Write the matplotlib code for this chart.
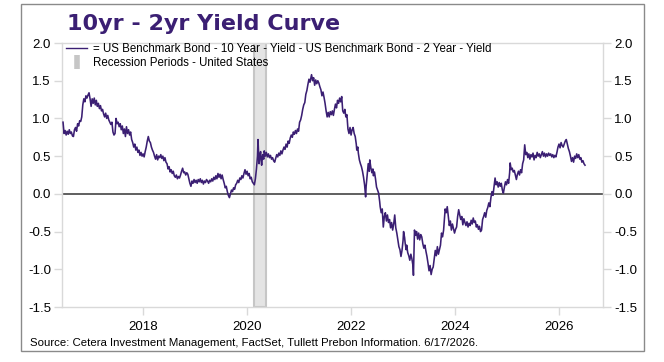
import matplotlib
matplotlib.use("Agg")
import matplotlib.pyplot as plt
from matplotlib.lines import Line2D
from matplotlib.patches import Rectangle

# 10yr - 2yr spread, (decimal year, spread in %)
pts_2016 = [(2016.46, 0.95), (2016.48, 0.80), (2016.50, 0.84), (2016.52, 0.78), (2016.54, 0.83),
            (2016.56, 0.79), (2016.58, 0.85), (2016.60, 0.80), (2016.62, 0.82), (2016.64, 0.77),
            (2016.66, 0.76), (2016.68, 0.85), (2016.70, 0.88), (2016.72, 0.83), (2016.74, 0.93),
            (2016.76, 0.90), (2016.78, 0.97), (2016.80, 0.96), (2016.82, 1.02), (2016.84, 1.18),
            (2016.86, 1.26), (2016.88, 1.22), (2016.90, 1.30), (2016.92, 1.27), (2016.94, 1.31),
            (2016.96, 1.34), (2016.98, 1.26)]
pts_2017 = [(2017.00, 1.16), (2017.02, 1.26), (2017.04, 1.20), (2017.06, 1.27), (2017.08, 1.18),
            (2017.10, 1.24), (2017.12, 1.16), (2017.14, 1.20), (2017.16, 1.13), (2017.18, 1.17),
            (2017.20, 1.10), (2017.22, 1.12), (2017.24, 1.06), (2017.26, 1.02), (2017.28, 1.07),
            (2017.30, 1.00), (2017.32, 1.04), (2017.34, 0.98), (2017.36, 0.95), (2017.38, 0.92),
            (2017.40, 0.95), (2017.42, 0.82), (2017.44, 0.78), (2017.46, 0.80), (2017.48, 1.00),
            (2017.50, 0.93), (2017.52, 0.95), (2017.54, 0.89), (2017.56, 0.93), (2017.58, 0.85),
            (2017.60, 0.90), (2017.62, 0.80), (2017.64, 0.86), (2017.66, 0.76), (2017.68, 0.89),
            (2017.70, 0.80), (2017.72, 0.85), (2017.74, 0.78), (2017.76, 0.82), (2017.78, 0.72),
            (2017.80, 0.68), (2017.82, 0.62), (2017.84, 0.66), (2017.86, 0.58), (2017.88, 0.62),
            (2017.90, 0.55), (2017.92, 0.58), (2017.94, 0.51), (2017.96, 0.55), (2017.98, 0.50)]
pts_2018 = [(2018.00, 0.53), (2018.02, 0.49), (2018.04, 0.56), (2018.06, 0.62), (2018.08, 0.70),
            (2018.10, 0.76), (2018.12, 0.70), (2018.14, 0.68), (2018.16, 0.62), (2018.18, 0.58),
            (2018.20, 0.55), (2018.22, 0.50), (2018.24, 0.46), (2018.26, 0.52), (2018.28, 0.45),
            (2018.30, 0.50), (2018.32, 0.48), (2018.34, 0.52), (2018.36, 0.47), (2018.38, 0.50),
            (2018.40, 0.44), (2018.42, 0.48), (2018.44, 0.42), (2018.46, 0.40), (2018.48, 0.33),
            (2018.50, 0.36), (2018.52, 0.29), (2018.54, 0.32), (2018.56, 0.27), (2018.58, 0.30),
            (2018.60, 0.24), (2018.62, 0.22), (2018.64, 0.25), (2018.66, 0.20), (2018.68, 0.23),
            (2018.70, 0.21), (2018.72, 0.25), (2018.74, 0.30), (2018.76, 0.34), (2018.78, 0.28),
            (2018.80, 0.29), (2018.82, 0.25), (2018.84, 0.28), (2018.86, 0.26), (2018.88, 0.20),
            (2018.90, 0.14), (2018.92, 0.10), (2018.94, 0.17), (2018.96, 0.14), (2018.98, 0.19)]
pts_2019 = [(2019.00, 0.15), (2019.02, 0.18), (2019.04, 0.14), (2019.06, 0.19), (2019.08, 0.16),
            (2019.10, 0.20), (2019.12, 0.15), (2019.14, 0.18), (2019.16, 0.13), (2019.18, 0.17),
            (2019.20, 0.15), (2019.22, 0.19), (2019.24, 0.17), (2019.26, 0.14), (2019.28, 0.18),
            (2019.30, 0.16), (2019.32, 0.20), (2019.34, 0.17), (2019.36, 0.22), (2019.38, 0.19),
            (2019.40, 0.24), (2019.42, 0.20), (2019.44, 0.27), (2019.46, 0.22), (2019.48, 0.26),
            (2019.50, 0.20), (2019.52, 0.25), (2019.54, 0.19), (2019.56, 0.14), (2019.58, 0.08),
            (2019.60, 0.10), (2019.62, 0.03), (2019.64, -0.02), (2019.66, -0.05), (2019.68, 0.00),
            (2019.70, 0.05), (2019.72, 0.03), (2019.74, 0.08), (2019.76, 0.06), (2019.78, 0.12),
            (2019.80, 0.14), (2019.82, 0.18), (2019.84, 0.15), (2019.86, 0.21), (2019.88, 0.19),
            (2019.90, 0.24), (2019.92, 0.21), (2019.94, 0.27), (2019.96, 0.32), (2019.98, 0.26)]
pts_2020 = [(2020.00, 0.30), (2020.02, 0.24), (2020.04, 0.27), (2020.06, 0.20), (2020.08, 0.22),
            (2020.10, 0.16), (2020.12, 0.14), (2020.14, 0.12), (2020.16, 0.20), (2020.18, 0.33),
            (2020.19, 0.42), (2020.20, 0.50), (2020.21, 0.72), (2020.22, 0.55), (2020.23, 0.40),
            (2020.24, 0.48), (2020.26, 0.56), (2020.27, 0.44), (2020.28, 0.38), (2020.30, 0.52),
            (2020.32, 0.46), (2020.33, 0.57), (2020.35, 0.50), (2020.37, 0.55), (2020.39, 0.49),
            (2020.41, 0.53), (2020.43, 0.48), (2020.45, 0.51), (2020.47, 0.46), (2020.49, 0.48),
            (2020.51, 0.44), (2020.53, 0.42), (2020.55, 0.47), (2020.57, 0.52), (2020.59, 0.49),
            (2020.61, 0.54), (2020.63, 0.51), (2020.65, 0.57), (2020.67, 0.53), (2020.69, 0.58),
            (2020.71, 0.62), (2020.73, 0.59), (2020.75, 0.66), (2020.77, 0.62), (2020.79, 0.70),
            (2020.81, 0.67), (2020.83, 0.74), (2020.85, 0.78), (2020.87, 0.75), (2020.89, 0.82),
            (2020.91, 0.79), (2020.93, 0.84), (2020.95, 0.80), (2020.97, 0.86), (2020.99, 0.83)]
pts_2021 = [(2021.01, 0.95), (2021.03, 0.98), (2021.05, 1.04), (2021.07, 1.12), (2021.09, 1.18),
            (2021.11, 1.21), (2021.13, 1.32), (2021.15, 1.37), (2021.17, 1.45), (2021.19, 1.52),
            (2021.21, 1.48), (2021.23, 1.55), (2021.24, 1.58), (2021.26, 1.50), (2021.28, 1.54),
            (2021.30, 1.44), (2021.32, 1.51), (2021.34, 1.46), (2021.36, 1.50), (2021.38, 1.47),
            (2021.40, 1.42), (2021.42, 1.38), (2021.44, 1.30), (2021.46, 1.35), (2021.48, 1.28),
            (2021.50, 1.20), (2021.52, 1.10), (2021.54, 1.02), (2021.56, 1.08), (2021.58, 1.02),
            (2021.60, 1.09), (2021.62, 1.05), (2021.64, 1.10), (2021.66, 1.04), (2021.68, 1.12),
            (2021.70, 1.19), (2021.72, 1.14), (2021.74, 1.24), (2021.76, 1.20), (2021.78, 1.27),
            (2021.80, 1.22), (2021.82, 1.29), (2021.84, 1.10), (2021.86, 1.07), (2021.88, 1.12),
            (2021.90, 1.02), (2021.92, 1.05), (2021.94, 0.86), (2021.96, 0.80), (2021.98, 0.88)]
pts_2022 = [(2022.00, 0.78), (2022.02, 0.85), (2022.04, 0.88), (2022.06, 0.80), (2022.08, 0.76),
            (2022.10, 0.66), (2022.11, 0.58), (2022.13, 0.62), (2022.14, 0.54), (2022.16, 0.45),
            (2022.18, 0.40), (2022.20, 0.36), (2022.22, 0.30), (2022.24, 0.22), (2022.26, 0.12),
            (2022.28, -0.04), (2022.29, 0.10), (2022.31, 0.25), (2022.33, 0.40), (2022.35, 0.30),
            (2022.36, 0.45), (2022.38, 0.35), (2022.40, 0.28), (2022.42, 0.33), (2022.43, 0.24),
            (2022.45, 0.29), (2022.47, 0.20), (2022.49, 0.09), (2022.51, 0.05), (2022.53, 0.01),
            (2022.55, -0.10), (2022.56, -0.17), (2022.58, -0.25), (2022.60, -0.20), (2022.62, -0.44),
            (2022.64, -0.30), (2022.66, -0.25), (2022.68, -0.36), (2022.70, -0.28), (2022.72, -0.38),
            (2022.74, -0.34), (2022.76, -0.45), (2022.78, -0.38), (2022.80, -0.48), (2022.82, -0.40),
            (2022.84, -0.28), (2022.86, -0.45), (2022.88, -0.52), (2022.90, -0.61), (2022.92, -0.70),
            (2022.94, -0.74), (2022.96, -0.83), (2022.98, -0.75)]
pts_2023 = [(2023.00, -0.62), (2023.01, -0.50), (2023.03, -0.58), (2023.04, -0.65), (2023.06, -0.74),
            (2023.07, -0.68), (2023.09, -0.78), (2023.11, -0.82), (2023.13, -0.88), (2023.15, -0.80),
            (2023.17, -0.86), (2023.19, -0.95), (2023.20, -1.08), (2023.22, -0.48), (2023.24, -0.55),
            (2023.26, -0.50), (2023.28, -0.60), (2023.30, -0.52), (2023.32, -0.61), (2023.34, -0.54),
            (2023.36, -0.57), (2023.38, -0.66), (2023.40, -0.72), (2023.42, -0.68), (2023.44, -0.76),
            (2023.46, -0.83), (2023.48, -0.92), (2023.50, -1.02), (2023.52, -0.95), (2023.54, -1.07),
            (2023.56, -1.00), (2023.58, -0.97), (2023.60, -0.86), (2023.62, -0.75), (2023.64, -0.82),
            (2023.66, -0.70), (2023.68, -0.80), (2023.70, -0.74), (2023.72, -0.68), (2023.74, -0.52),
            (2023.76, -0.57), (2023.78, -0.48), (2023.80, -0.30), (2023.81, -0.20), (2023.83, -0.25),
            (2023.85, -0.17), (2023.87, -0.30), (2023.89, -0.42), (2023.91, -0.36), (2023.93, -0.48),
            (2023.95, -0.40), (2023.97, -0.46), (2023.99, -0.52)]
pts_2024 = [(2024.01, -0.47), (2024.03, -0.44), (2024.05, -0.30), (2024.07, -0.21), (2024.09, -0.28),
            (2024.11, -0.34), (2024.13, -0.30), (2024.15, -0.41), (2024.17, -0.33), (2024.19, -0.38),
            (2024.21, -0.42), (2024.23, -0.37), (2024.25, -0.44), (2024.27, -0.39), (2024.29, -0.42),
            (2024.31, -0.35), (2024.33, -0.40), (2024.35, -0.32), (2024.37, -0.38), (2024.39, -0.36),
            (2024.41, -0.44), (2024.43, -0.41), (2024.45, -0.47), (2024.47, -0.43), (2024.49, -0.50),
            (2024.51, -0.48), (2024.53, -0.34), (2024.55, -0.30), (2024.57, -0.25), (2024.59, -0.31),
            (2024.61, -0.22), (2024.63, -0.18), (2024.65, -0.12), (2024.67, -0.17), (2024.69, -0.05),
            (2024.71, 0.03), (2024.73, -0.02), (2024.75, 0.09), (2024.77, 0.21), (2024.79, 0.12),
            (2024.81, 0.16), (2024.83, 0.09), (2024.85, 0.15), (2024.87, 0.10), (2024.89, 0.14),
            (2024.91, 0.05), (2024.93, 0.01), (2024.95, 0.09), (2024.97, 0.16), (2024.99, 0.12)]
pts_2025 = [(2025.01, 0.19), (2025.03, 0.14), (2025.05, 0.28), (2025.06, 0.41), (2025.08, 0.32),
            (2025.10, 0.34), (2025.12, 0.29), (2025.14, 0.31), (2025.16, 0.25), (2025.18, 0.19),
            (2025.20, 0.26), (2025.22, 0.30), (2025.24, 0.25), (2025.26, 0.32), (2025.28, 0.28),
            (2025.30, 0.40), (2025.32, 0.45), (2025.34, 0.65), (2025.36, 0.52), (2025.38, 0.55),
            (2025.40, 0.48), (2025.42, 0.53), (2025.44, 0.46), (2025.46, 0.52), (2025.48, 0.49),
            (2025.50, 0.54), (2025.52, 0.45), (2025.54, 0.51), (2025.56, 0.48), (2025.58, 0.55),
            (2025.60, 0.50), (2025.62, 0.53), (2025.64, 0.48), (2025.66, 0.52), (2025.68, 0.56),
            (2025.70, 0.50), (2025.72, 0.54), (2025.74, 0.49), (2025.76, 0.53), (2025.78, 0.50),
            (2025.80, 0.54), (2025.82, 0.51), (2025.84, 0.53), (2025.86, 0.49), (2025.88, 0.52),
            (2025.90, 0.48), (2025.92, 0.51), (2025.94, 0.49), (2025.96, 0.55), (2025.98, 0.62)]
pts_2026 = [(2026.00, 0.66), (2026.02, 0.61), (2026.04, 0.68), (2026.06, 0.64), (2026.08, 0.62),
            (2026.10, 0.66), (2026.12, 0.70), (2026.14, 0.72), (2026.16, 0.66), (2026.18, 0.60),
            (2026.20, 0.56), (2026.22, 0.50), (2026.24, 0.43), (2026.26, 0.48), (2026.28, 0.42),
            (2026.30, 0.50), (2026.32, 0.47), (2026.34, 0.53), (2026.36, 0.48), (2026.38, 0.52),
            (2026.40, 0.46), (2026.42, 0.48), (2026.44, 0.42), (2026.46, 0.44), (2026.48, 0.40),
            (2026.50, 0.38)]

# recession periods (decimal years)
rec_start = [2020.13]
rec_end = [2020.37]

year_ticks = [2018, 2020, 2022, 2024, 2026]
y_ticks = [-1.5, -1.0, -0.5, 0.0, 0.5, 1.0, 1.5, 2.0]

title = "10yr - 2yr Yield Curve"
line_label = "= US Benchmark Bond - 10 Year - Yield - US Benchmark Bond - 2 Year - Yield"
rec_label = "Recession Periods - United States"
source = "Source: Cetera Investment Management, FactSet, Tullett Prebon Information. 6/17/2026."

purple = "#3b1f73"
grey_ax = "#d9d9d9"

all_pts = pts_2016 + pts_2017 + pts_2018 + pts_2019 + pts_2020 + pts_2021 + \
    pts_2022 + pts_2023 + pts_2024 + pts_2025 + pts_2026
t = [p[0] for p in all_pts]
v = [p[1] for p in all_pts]

plt.rcParams['font.family'] = ['Liberation Sans', 'DejaVu Sans']

fig = plt.figure(figsize=(6.64, 3.62), dpi=100)
ax = fig.add_axes([62 / 664, 55 / 362, 541 / 664, 264 / 362])

for s, e in zip(rec_start, rec_end):
    ax.axvspan(s, e, facecolor="#e4e4e4", edgecolor="#c6c6c6", lw=1.5, zorder=1)

ax.axhline(0, color="#5f5f5f", lw=1.4, zorder=2)
ax.plot(t, v, color=purple, lw=1.15, zorder=3)

ax.set_xlim(2016.44, 2026.846)
ax.set_ylim(-1.5, 2.0)
ax.set_xticks(year_ticks)
ax.set_xticklabels([str(y) for y in year_ticks])
ax.set_yticks(y_ticks)
ax.set_yticklabels(["%.1f" % y for y in y_ticks])

for sp in ax.spines.values():
    sp.set_color(grey_ax)
    sp.set_linewidth(1.0)
ax.tick_params(axis="both", colors=grey_ax, length=6, width=1.0, labelcolor="black")
ax.tick_params(axis="y", right=True, labelright=True, labelsize=9.5, pad=2)
ax.tick_params(axis="x", labelsize=9.5, pad=4)

handles = [Line2D([], [], color=purple, lw=1.0),
           Line2D([], [], color="#c6c6c6", marker="|", markersize=10, markeredgewidth=4, linestyle="none")]
ax.legend(handles, [line_label, rec_label], loc="upper left", bbox_to_anchor=(0.008, 1.0),
          frameon=False, fontsize=8.3, handlelength=1.8, handletextpad=0.5,
          labelspacing=0.2, borderpad=0.0, borderaxespad=0.0)

fig.text(67 / 664, (362 - 30) / 362, title, fontsize=16, fontweight="bold",
         color=purple, family=["DejaVu Sans"], va="baseline", ha="left")
fig.text(30 / 664, (362 - 343) / 362, source, fontsize=8.2, va="center", ha="left")

fig.add_artist(Rectangle((21 / 664, 11 / 362), 623 / 664, 347 / 362, transform=fig.transFigure,
                         fill=False, edgecolor="#8a8a8a", lw=1.0))

fig.savefig("out.png", dpi=100)
